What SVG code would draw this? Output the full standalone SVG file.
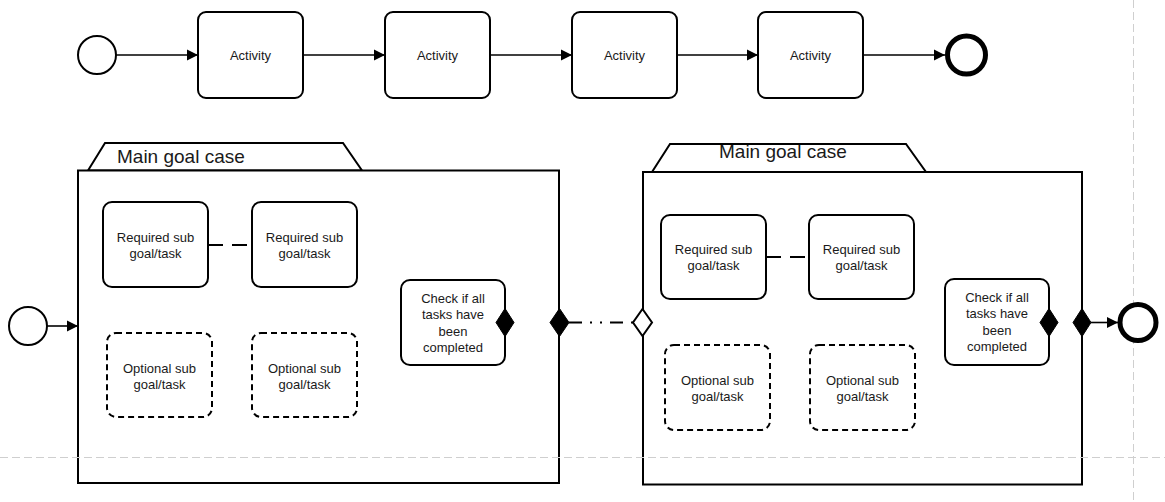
<svg xmlns="http://www.w3.org/2000/svg" width="1165" height="502" viewBox="0 0 1165 502">
  <defs>
    <marker id="arrow" markerWidth="12" markerHeight="12" refX="11" refY="6" orient="auto" markerUnits="userSpaceOnUse">
      <path d="M0,0.5 L11,6 L0,11.5 Z" fill="#000"/>
    </marker>
    <style>
      .box { fill: #fff; stroke: #000; stroke-width: 2; }
      .opt { fill: #fff; stroke: #000; stroke-width: 2; stroke-dasharray: 6 4; }
      .case { fill: #fff; stroke: #000; stroke-width: 2; }
      .start { fill: #fff; stroke: #000; stroke-width: 2; }
      .end { fill: #fff; stroke: #000; stroke-width: 5; }
      .flow { fill: none; stroke: #000; stroke-width: 1.6; }
      .assoc { fill: none; stroke: #000; stroke-width: 2; stroke-dasharray: 15 9; }
      .dashdot { fill: none; stroke: #000; stroke-width: 2; stroke-dasharray: 13 8 2 8 2 8; }
      .guide { fill: none; stroke: #cfcfcf; stroke-width: 1; stroke-dasharray: 8 4; }
      .solid { fill: #000; stroke: #000; stroke-width: 1; }
      .hollow { fill: #fff; stroke: #000; stroke-width: 2; }
      .lbl { font-family: "Liberation Sans", Arial, sans-serif; font-size: 13px; fill: #1a1a1a; text-anchor: middle; }
      .title { font-family: "Liberation Sans", Arial, sans-serif; font-size: 19px; fill: #1a1a1a; }
    </style>
  </defs>

  <!-- vertical page guide, behind the shapes -->
  <g id="guide-v">
    <line class="guide" x1="1133.5" y1="0" x2="1133.5" y2="502"/>
  </g>

  <!-- top sequence -->
  <g id="top-start"><circle class="start" cx="97" cy="55" r="19"/></g>
  <g id="activity-1"><rect class="box" x="198" y="12" width="105" height="86" rx="8"/><text class="lbl" x="250.5" y="59.5">Activity</text></g>
  <g id="activity-2"><rect class="box" x="385" y="12" width="105" height="86" rx="8"/><text class="lbl" x="437.5" y="59.5">Activity</text></g>
  <g id="activity-3"><rect class="box" x="572" y="12" width="105" height="86" rx="8"/><text class="lbl" x="624.5" y="59.5">Activity</text></g>
  <g id="activity-4"><rect class="box" x="758" y="12" width="105" height="86" rx="8"/><text class="lbl" x="810.5" y="59.5">Activity</text></g>
  <g id="top-end"><circle class="end" cx="966.5" cy="55" r="19"/></g>

  <!-- left case -->
  <g id="case-1">
    <polygon class="case" points="88,170.5 105,143 343,143 362,170.5"/>
    <rect class="case" x="78" y="170.5" width="481" height="312.5"/>
    <text class="title" x="117" y="163">Main goal case</text>
  </g>
  <g id="c1-req-1"><rect class="box" x="103" y="202" width="105" height="85" rx="9"/><text class="lbl" x="155.5" y="242">Required sub</text><text class="lbl" x="155.5" y="258">goal/task</text></g>
  <g id="c1-req-2"><rect class="box" x="252" y="202" width="105" height="85" rx="9"/><text class="lbl" x="304.5" y="242">Required sub</text><text class="lbl" x="304.5" y="258">goal/task</text></g>
  <g id="c1-opt-1"><rect class="opt" x="107" y="333" width="105" height="84" rx="9"/><text class="lbl" x="159.5" y="373">Optional sub</text><text class="lbl" x="159.5" y="389">goal/task</text></g>
  <g id="c1-opt-2"><rect class="opt" x="252" y="333" width="105" height="84" rx="9"/><text class="lbl" x="304.5" y="373">Optional sub</text><text class="lbl" x="304.5" y="389">goal/task</text></g>
  <g id="c1-check">
    <rect class="box" x="401" y="280" width="104" height="85" rx="9"/>
    <text class="lbl" x="453" y="302.5">Check if all</text>
    <text class="lbl" x="453" y="319">tasks have</text>
    <text class="lbl" x="453" y="335.5">been</text>
    <text class="lbl" x="453" y="352">completed</text>
    <polygon class="solid" points="505,308.5 514,322.5 505,336.5 496,322.5"/>
  </g>
  <g id="c1-exit"><polygon class="solid" points="559.5,308.5 569,322.5 559.5,336.5 550,322.5"/></g>

  <!-- right case -->
  <g id="case-2">
    <polygon class="case" points="652,172 670,144 906,144 926,172"/>
    <rect class="case" x="643" y="172" width="439" height="312.5"/>
    <text class="title" x="719" y="158">Main goal case</text>
  </g>
  <g id="c2-entry"><polygon class="hollow" points="642.5,309 652,322.5 642.5,336 633,322.5"/></g>
  <g id="c2-req-1"><rect class="box" x="661" y="215" width="105" height="84" rx="9"/><text class="lbl" x="713.5" y="254">Required sub</text><text class="lbl" x="713.5" y="270">goal/task</text></g>
  <g id="c2-req-2"><rect class="box" x="809" y="215" width="105" height="84" rx="9"/><text class="lbl" x="861.5" y="254">Required sub</text><text class="lbl" x="861.5" y="270">goal/task</text></g>
  <g id="c2-opt-1"><rect class="opt" x="665" y="345" width="105" height="85" rx="9"/><text class="lbl" x="717.5" y="385">Optional sub</text><text class="lbl" x="717.5" y="401">goal/task</text></g>
  <g id="c2-opt-2"><rect class="opt" x="810" y="345" width="105" height="85" rx="9"/><text class="lbl" x="862.5" y="385">Optional sub</text><text class="lbl" x="862.5" y="401">goal/task</text></g>
  <g id="c2-check">
    <rect class="box" x="945" y="279" width="104" height="86" rx="9"/>
    <text class="lbl" x="997" y="301.5">Check if all</text>
    <text class="lbl" x="997" y="318">tasks have</text>
    <text class="lbl" x="997" y="334.5">been</text>
    <text class="lbl" x="997" y="351">completed</text>
    <polygon class="solid" points="1049,308.5 1058,322.5 1049,336.5 1040,322.5"/>
  </g>
  <g id="c2-exit"><polygon class="solid" points="1082,308.5 1091,322.5 1082,336.5 1073,322.5"/></g>

  <!-- bottom start / end -->
  <g id="bottom-start"><circle class="start" cx="28" cy="326" r="19"/></g>
  <g id="bottom-end"><circle class="end" cx="1138" cy="322.5" r="18"/></g>

  <!-- connectors -->
  <g id="connectors">
    <line class="flow" x1="116" y1="55" x2="198" y2="55" marker-end="url(#arrow)"/>
    <line class="flow" x1="303" y1="55" x2="385" y2="55" marker-end="url(#arrow)"/>
    <line class="flow" x1="490" y1="55" x2="572" y2="55" marker-end="url(#arrow)"/>
    <line class="flow" x1="677" y1="55" x2="758" y2="55" marker-end="url(#arrow)"/>
    <line class="flow" x1="863" y1="55" x2="945" y2="55" marker-end="url(#arrow)"/>
    <line class="flow" x1="47" y1="326" x2="78" y2="326" marker-end="url(#arrow)"/>
    <line class="assoc" x1="208" y1="245" x2="252" y2="245"/>
    <line class="assoc" x1="766" y1="257" x2="809" y2="257"/>
    <line class="dashdot" x1="569" y1="322.5" x2="633" y2="322.5"/>
    <line class="flow" x1="1091" y1="322.5" x2="1118" y2="322.5" marker-end="url(#arrow)"/>
  </g>

  <!-- horizontal page guide, drawn over the case frames -->
  <g id="guide-h">
    <line class="guide" x1="0" y1="457.5" x2="1165" y2="457.5"/>
  </g>
</svg>
